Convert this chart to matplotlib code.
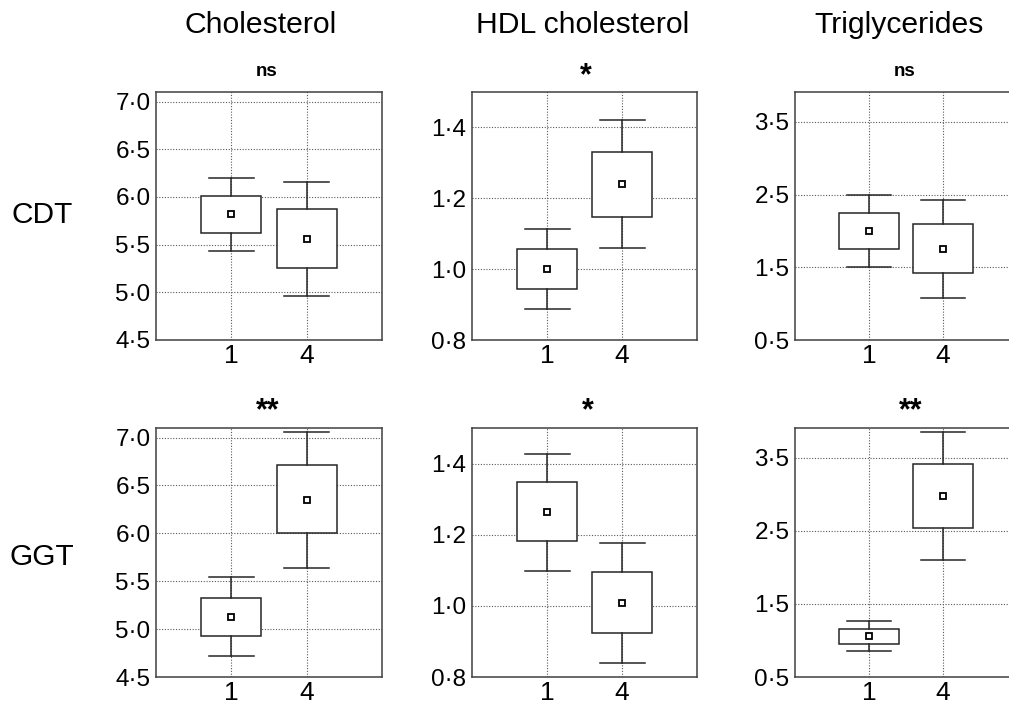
import matplotlib
matplotlib.use('Agg')
import matplotlib.pyplot as plt

plt.rcParams['font.family'] = ['Liberation Sans', 'DejaVu Sans']

# groups on the x axis
groups = ['1', '4']
columns = ['Cholesterol', 'HDL cholesterol', 'Triglycerides']
rows = ['CDT', 'GGT']
signif = [['ns', '*', 'ns'], ['**', '*', '**']]

# y axis per column
yticks = [[4.5, 5.0, 5.5, 6.0, 6.5, 7.0],
          [0.8, 1.0, 1.2, 1.4],
          [0.5, 1.5, 2.5, 3.5]]
yticklabels = [['4·5', '5·0', '5·5', '6·0', '6·5', '7·0'],
               ['0·8', '1·0', '1·2', '1·4'],
               ['0·5', '1·5', '2·5', '3·5']]
ylims = [(4.5, 7.1), (0.8, 1.5), (0.5, 3.91)]

# CDT row: mean, box low/high, whisker low/high for groups 1 and 4
cdt_chol_mean = [5.82, 5.56]
cdt_chol_box_lo = [5.62, 5.26]
cdt_chol_box_hi = [6.01, 5.87]
cdt_chol_whis_lo = [5.43, 4.96]
cdt_chol_whis_hi = [6.20, 6.16]

cdt_hdl_mean = [1.00, 1.239]
cdt_hdl_box_lo = [0.944, 1.148]
cdt_hdl_box_hi = [1.058, 1.332]
cdt_hdl_whis_lo = [0.887, 1.059]
cdt_hdl_whis_hi = [1.112, 1.422]

cdt_trig_mean = [2.00, 1.75]
cdt_trig_box_lo = [1.75, 1.42]
cdt_trig_box_hi = [2.25, 2.10]
cdt_trig_whis_lo = [1.50, 1.08]
cdt_trig_whis_hi = [2.50, 2.43]

# GGT row
ggt_chol_mean = [5.13, 6.35]
ggt_chol_box_lo = [4.93, 6.00]
ggt_chol_box_hi = [5.33, 6.71]
ggt_chol_whis_lo = [4.72, 5.64]
ggt_chol_whis_hi = [5.54, 7.06]

ggt_hdl_mean = [1.263, 1.009]
ggt_hdl_box_lo = [1.181, 0.924]
ggt_hdl_box_hi = [1.348, 1.094]
ggt_hdl_whis_lo = [1.099, 0.840]
ggt_hdl_whis_hi = [1.427, 1.176]

ggt_trig_mean = [1.06, 2.98]
ggt_trig_box_lo = [0.95, 2.54]
ggt_trig_box_hi = [1.16, 3.42]
ggt_trig_whis_lo = [0.86, 2.10]
ggt_trig_whis_hi = [1.27, 3.86]

panels = [
    [(cdt_chol_mean, cdt_chol_box_lo, cdt_chol_box_hi, cdt_chol_whis_lo, cdt_chol_whis_hi),
     (cdt_hdl_mean, cdt_hdl_box_lo, cdt_hdl_box_hi, cdt_hdl_whis_lo, cdt_hdl_whis_hi),
     (cdt_trig_mean, cdt_trig_box_lo, cdt_trig_box_hi, cdt_trig_whis_lo, cdt_trig_whis_hi)],
    [(ggt_chol_mean, ggt_chol_box_lo, ggt_chol_box_hi, ggt_chol_whis_lo, ggt_chol_whis_hi),
     (ggt_hdl_mean, ggt_hdl_box_lo, ggt_hdl_box_hi, ggt_hdl_whis_lo, ggt_hdl_whis_hi),
     (ggt_trig_mean, ggt_trig_box_lo, ggt_trig_box_hi, ggt_trig_whis_lo, ggt_trig_whis_hi)],
]

W, H = 1009, 706
fig = plt.figure(figsize=(W / 100, H / 100), dpi=100)

# axes layout in pixels
col_left = [156, 472, 795]
col_width = [226, 225, 222]
row_top = [92, 428]
row_bottom = [340, 677]
title_x = [261, 583, 899]
signif_x = [[267, 586, 905], [268, 588, 911]]
signif_y = [71, 406]
row_label_y = [215, 557]

for r in range(2):
    for c in range(3):
        ax = fig.add_axes([col_left[c] / W, 1 - row_bottom[r] / H,
                           col_width[c] / W, (row_bottom[r] - row_top[r]) / H])
        mean, blo, bhi, wlo, whi = panels[r][c]
        stats = []
        for i in range(len(groups)):
            stats.append(dict(med=mean[i], mean=mean[i], q1=blo[i], q3=bhi[i],
                              whislo=wlo[i], whishi=whi[i], fliers=[]))
        ax.bxp(stats, positions=[1, 2], widths=0.8, capwidths=0.6,
               showmeans=True, patch_artist=True, showfliers=False,
               boxprops=dict(facecolor='white', edgecolor='0.15', linewidth=1.1),
               whiskerprops=dict(color='0.15', linewidth=1.1),
               capprops=dict(color='0.15', linewidth=1.1),
               medianprops=dict(linewidth=0),
               meanprops=dict(marker='s', markerfacecolor='white',
                              markeredgecolor='black', markersize=5,
                              markeredgewidth=1.3),
               zorder=3)
        ax.set_xlim(0, 3)
        ax.set_ylim(*ylims[c])
        ax.set_xticks([1, 2])
        ax.set_xticklabels(groups, fontsize=19)
        ax.set_yticks(yticks[c])
        ax.set_yticklabels(yticklabels[c], fontsize=17.5)
        ax.tick_params(axis='both', length=0)
        ax.tick_params(axis='x', pad=3)
        ax.tick_params(axis='y', pad=4)
        ax.grid(True, linestyle=(0, (1, 1.5)), color='0.35', linewidth=0.8, zorder=0)
        ax.set_axisbelow(True)
        for sp in ax.spines.values():
            sp.set_color('0.25')
            sp.set_linewidth(1.1)

        star = signif[r][c] != 'ns'
        # asterisk glyphs sit high in the line box, nudge them down
        y_off = 5 if star else 0
        fig.text(signif_x[r][c] / W, 1 - (signif_y[r] + y_off) / H, signif[r][c],
                 ha='center', va='center', fontweight='bold',
                 fontsize=22 if star else 13.5)

for c in range(3):
    fig.text(title_x[c] / W, 1 - 25 / H, columns[c], ha='center', va='center', fontsize=21.7)

for r in range(2):
    fig.text(42 / W, 1 - row_label_y[r] / H, rows[r], ha='center', va='center', fontsize=21.5)

fig.savefig('out.png', dpi=100)
